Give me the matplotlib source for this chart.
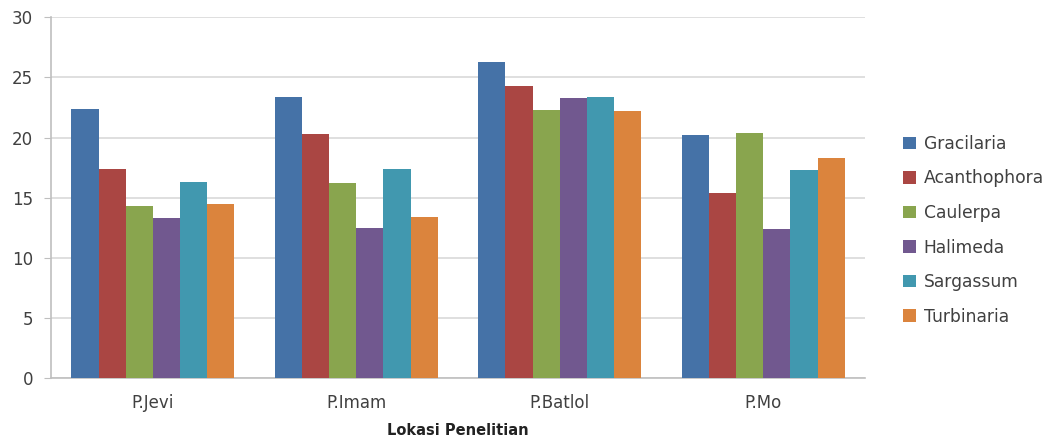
import matplotlib
matplotlib.use("Agg")
import matplotlib.pyplot as plt
import numpy as np

plt.rcParams['font.family'] = ['DejaVu Sans']

locations = ["P.Jevi", "P.Imam", "P.Batlol", "P.Mo"]
series_names = ["Gracilaria", "Acanthophora", "Caulerpa", "Halimeda", "Sargassum", "Turbinaria"]
gracilaria = [22.4, 23.4, 26.3, 20.2]
acanthophora = [17.4, 20.3, 24.3, 15.4]
caulerpa = [14.3, 16.2, 22.3, 20.4]
halimeda = [13.3, 12.5, 23.3, 12.4]
sargassum = [16.3, 17.4, 23.4, 17.3]
turbinaria = [14.5, 13.4, 22.2, 18.3]
yticks = [0, 5, 10, 15, 20, 25, 30]

values = [gracilaria, acanthophora, caulerpa, halimeda, sargassum, turbinaria]
colors = ["#4572A7", "#AA4643", "#89A54E", "#71588F", "#4198AF", "#DB843D"]

fig = plt.figure(figsize=(10.59, 4.41), dpi=100)
ax = fig.add_axes([0.0482, 0.1422, 0.7686, 0.8186])

n = len(series_names)
bw = 1.0 / (n + 1.5)
x = np.arange(len(locations))
for i, (name, vals, c) in enumerate(zip(series_names, values, colors)):
    ax.bar(x - 0.5 + 0.75 * bw + i * bw + bw / 2, vals, width=bw, color=c,
           label=name, zorder=3, linewidth=0)

ax.set_xlim(-0.5, len(locations) - 0.5)
ax.set_ylim(0, 30)
ax.set_yticks(yticks)
ax.set_xticks(x)
ax.set_xticklabels(locations)
ax.yaxis.grid(True, color="#d9d9d9", linewidth=1.2, zorder=0)
for s in ["top", "right"]:
    ax.spines[s].set_visible(False)
ax.spines["left"].set_color("#bfbfbf")
ax.spines["bottom"].set_color("#bfbfbf")
ax.spines["left"].set_linewidth(1.2)
ax.spines["bottom"].set_linewidth(1.2)
ax.tick_params(axis="y", length=5, color="#bfbfbf", labelsize=12, labelcolor="#404040", pad=8)
ax.tick_params(axis="x", length=0, labelsize=12, labelcolor="#404040", pad=11)
ax.set_xlabel("Lokasi Penelitian", fontsize=10.5, fontweight="bold", color="#222222", labelpad=8)

ax.legend(loc="center left", bbox_to_anchor=(1.028, 0.41), frameon=False, fontsize=12.3,
          handlelength=0.75, handleheight=0.75, handletextpad=0.45, labelspacing=0.97,
          labelcolor="#404040")

fig.savefig("out.png", dpi=100)
